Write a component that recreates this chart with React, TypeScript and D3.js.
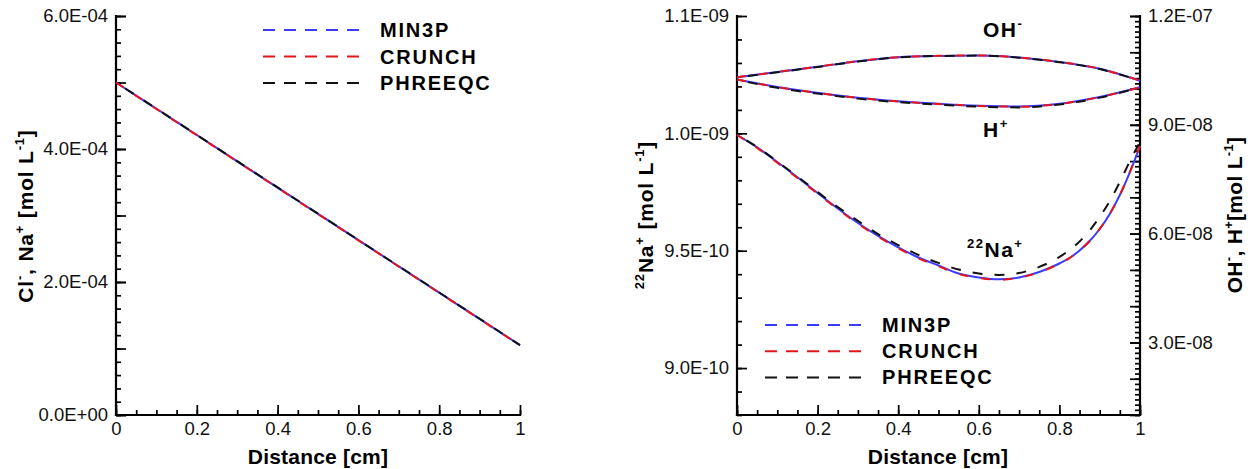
import React, { useEffect, useRef } from "react";
import * as d3 from "d3";

// values
const distance = [0, 0.1, 0.2, 0.3, 0.4, 0.5, 0.6, 0.7, 0.8, 0.9, 1];
const naDistance = [0, 0.05, 0.1, 0.15, 0.2, 0.25, 0.3, 0.35, 0.4, 0.45, 0.5,
  0.55, 0.6, 0.65, 0.7, 0.75, 0.8, 0.825, 0.85, 0.875, 0.9, 0.925, 0.95, 0.975, 1];

const codes = ["MIN3P", "CRUNCH", "PHREEQC"];
const codeColors = ["#3b3bff", "#e3161c", "#111111"];

// Cl-, Na+ (left panel)
const clMin3p = [5.0e-4, 4.605e-4, 4.21e-4, 3.815e-4, 3.42e-4, 3.025e-4, 2.63e-4, 2.235e-4, 1.84e-4, 1.445e-4, 1.05e-4];
const clCrunch = [5.0e-4, 4.603e-4, 4.208e-4, 3.812e-4, 3.417e-4, 3.022e-4, 2.627e-4, 2.232e-4, 1.838e-4, 1.443e-4, 1.05e-4];
const clPhreeqc = [5.0e-4, 4.607e-4, 4.212e-4, 3.817e-4, 3.422e-4, 3.027e-4, 2.632e-4, 2.237e-4, 1.842e-4, 1.447e-4, 1.05e-4];

// 22Na+ (right panel, left axis)
const naMin3p = [9.993e-10, 9.940e-10, 9.878e-10, 9.813e-10, 9.746e-10, 9.680e-10, 9.618e-10, 9.563e-10, 9.514e-10, 9.471e-10, 9.437e-10,
  9.403e-10, 9.386e-10, 9.378e-10, 9.386e-10, 9.409e-10, 9.4455e-10, 9.4689e-10, 9.5009e-10, 9.5413e-10, 9.5925e-10, 9.6564e-10,
  9.7373e-10, 9.8353e-10, 9.9461e-10];
const naCrunch = [9.993e-10, 9.938e-10, 9.875e-10, 9.810e-10, 9.743e-10, 9.677e-10, 9.615e-10, 9.560e-10, 9.511e-10, 9.468e-10, 9.434e-10,
  9.401e-10, 9.384e-10, 9.376e-10, 9.385e-10, 9.408e-10, 9.4450e-10, 9.4686e-10, 9.5008e-10, 9.5414e-10, 9.5930e-10, 9.6570e-10,
  9.7380e-10, 9.8360e-10, 9.9470e-10];
const naPhreeqc = [9.993e-10, 9.942e-10, 9.880e-10, 9.816e-10, 9.750e-10, 9.686e-10, 9.627e-10, 9.571e-10, 9.524e-10, 9.482e-10, 9.448e-10,
  9.420e-10, 9.403e-10, 9.397e-10, 9.405e-10, 9.431e-10, 9.4732e-10, 9.5030e-10, 9.5392e-10, 9.5861e-10, 9.6436e-10, 9.7118e-10,
  9.7927e-10, 9.8822e-10, 9.9632e-10];

// OH- and H+ (right panel, right axis)
const ohMin3p = [1.031e-7, 1.0456e-7, 1.06e-7, 1.0751e-7, 1.0864e-7, 1.09e-7, 1.0911e-7, 1.0856e-7, 1.0732e-7, 1.0544e-7, 1.0216e-7];
const ohCrunch = [1.031e-7, 1.0458e-7, 1.0602e-7, 1.0753e-7, 1.0866e-7, 1.0902e-7, 1.0913e-7, 1.0858e-7, 1.0734e-7, 1.0546e-7, 1.0216e-7];
const ohPhreeqc = [1.031e-7, 1.0450e-7, 1.0594e-7, 1.0746e-7, 1.0860e-7, 1.0897e-7, 1.0908e-7, 1.0852e-7, 1.0727e-7, 1.0538e-7, 1.0216e-7];
const hMin3p = [1.0249e-7, 1.0043e-7, 9.883e-8, 9.745e-8, 9.648e-8, 9.579e-8, 9.524e-8, 9.502e-8, 9.579e-8, 9.767e-8, 1.0034e-7];
const hCrunch = [1.0249e-7, 1.0040e-7, 9.880e-8, 9.742e-8, 9.645e-8, 9.576e-8, 9.521e-8, 9.500e-8, 9.577e-8, 9.765e-8, 1.0034e-7];
const hPhreeqc = [1.0240e-7, 1.0020e-7, 9.860e-8, 9.722e-8, 9.625e-8, 9.556e-8, 9.500e-8, 9.480e-8, 9.560e-8, 9.750e-8, 1.0030e-7];

// tick labels
const xTicks = [0, 0.2, 0.4, 0.6, 0.8, 1];
const xTickLabels = ["0", "0.2", "0.4", "0.6", "0.8", "1"];
const clTicks = [0, 2e-4, 4e-4, 6e-4];
const clTickLabels = ["0.0E+00", "2.0E-04", "4.0E-04", "6.0E-04"];
const naTicks = [9.0e-10, 9.5e-10, 1.0e-9, 1.05e-9];
const naTickLabels = ["9.0E-10", "9.5E-10", "1.0E-09", "1.1E-09"];
const ionTicks = [3e-8, 6e-8, 9e-8, 1.2e-7];
const ionTickLabels = ["3.0E-08", "6.0E-08", "9.0E-08", "1.2E-07"];

const font = "'Liberation Sans', Arial, sans-serif";

function App() {
  const ref = useRef<SVGSVGElement>(null);

  useEffect(() => {
    document.body.style.margin = "0";
    const svg = d3.select(ref.current);
    svg.selectAll("*").remove();

    const top = 16, bottom = 415;
    const x1 = d3.scaleLinear().domain([0, 1]).range([116, 520]);
    const yCl = d3.scaleLinear().domain([0, 6e-4]).range([bottom, top]);
    const x2 = d3.scaleLinear().domain([0, 1]).range([737, 1140]);
    const yNa = d3.scaleLinear().domain([8.8e-10, 1.05e-9]).range([bottom, top]);
    const yIon = d3.scaleLinear().domain([1e-8, 1.2e-7]).range([bottom, top]);

    const steps = (n: number, step: number, start = 0) => d3.range(n).map(i => start + i * step);

    // one axis layer; ticks point into the plot
    const axisLayer = (gen: any, tf: string) => {
      svg.append("g").attr("transform", tf).call(gen).call((g: any) => {
        g.select(".domain").remove();
        g.selectAll("line").attr("stroke", "#000").attr("stroke-width", 1.7);
        g.selectAll("text").attr("font-family", font).attr("font-size", 18.5).attr("fill", "#111");
      });
    };
    const noLabel = () => "";

    // x axes (both panels)
    [x1, x2].forEach(x => {
      const tf = `translate(0,${bottom})`;
      axisLayer(d3.axisBottom(x).tickValues(steps(21, 0.05)).tickSize(-5).tickFormat(noLabel), tf);
      axisLayer(d3.axisBottom(x).tickValues(xTicks).tickSize(-10).tickPadding(7)
        .tickFormat((d, i) => xTickLabels[i]), tf);
    });

    // left panel y axis
    axisLayer(d3.axisLeft(yCl).tickValues(steps(31, 2e-5)).tickSize(-5).tickFormat(noLabel), "translate(116,0)");
    axisLayer(d3.axisLeft(yCl).tickValues(steps(7, 1e-4)).tickSize(-10).tickFormat(noLabel), "translate(116,0)");
    axisLayer(d3.axisLeft(yCl).tickValues(clTicks).tickSize(-10).tickPadding(8)
      .tickFormat((d, i) => clTickLabels[i]), "translate(116,0)");

    // right panel left y axis
    axisLayer(d3.axisLeft(yNa).tickValues(steps(18, 1e-11, 8.8e-10)).tickSize(-5).tickFormat(noLabel), "translate(737,0)");
    axisLayer(d3.axisLeft(yNa).tickValues(naTicks).tickSize(-10).tickPadding(8)
      .tickFormat((d, i) => naTickLabels[i]), "translate(737,0)");

    // right panel right y axis
    axisLayer(d3.axisRight(yIon).tickValues(steps(78, 1e-8 / 7, 1e-8)).tickSize(-5).tickFormat(noLabel), "translate(1140,0)");
    axisLayer(d3.axisRight(yIon).tickValues(steps(12, 1e-8, 1e-8)).tickSize(-10).tickFormat(noLabel), "translate(1140,0)");
    axisLayer(d3.axisRight(yIon).tickValues(ionTicks).tickSize(-10).tickPadding(8)
      .tickFormat((d, i) => ionTickLabels[i]), "translate(1140,0)");

    // axis lines
    const axisLines = [
      [116, top, 116, bottom], [116, bottom, 520, bottom],
      [737, top, 737, bottom], [737, bottom, 1140, bottom], [1140, top, 1140, bottom],
    ];
    axisLines.forEach(([a, b, c, d]) => {
      svg.append("line").attr("x1", a).attr("y1", b).attr("x2", c).attr("y2", d)
        .attr("stroke", "#000").attr("stroke-width", 2.2).attr("stroke-linecap", "square");
    });

    // curves: blue drawn solid underneath, red and black dashed on top
    const dashes = [null, "9 13", "10 12"];
    const offsets = [0, 0, 11];
    const drawSeries = (x: any, y: any, xs: number[], ys: number[], k: number) => {
      const line = d3.line<number>().x((d, i) => x(xs[i])).y(d => y(d)).curve(d3.curveMonotoneX);
      svg.append("path").attr("d", line(ys)).attr("fill", "none")
        .attr("stroke", codeColors[k]).attr("stroke-width", 2)
        .attr("stroke-dasharray", dashes[k]).attr("stroke-dashoffset", offsets[k]);
    };
    [clMin3p, clCrunch, clPhreeqc].forEach((s, k) => drawSeries(x1, yCl, distance, s, k));
    [naMin3p, naCrunch, naPhreeqc].forEach((s, k) => drawSeries(x2, yNa, naDistance, s, k));
    [ohMin3p, ohCrunch, ohPhreeqc].forEach((s, k) => drawSeries(x2, yIon, distance, s, k));
    [hMin3p, hCrunch, hPhreeqc].forEach((s, k) => drawSeries(x2, yIon, distance, s, k));

    // text with superscripts
    const richText = (x: number, y: number, rot: number, anchor: string, parts: [string, boolean][],
      size: number, spacing: number) => {
      const t = svg.append("text").attr("transform", `translate(${x},${y}) rotate(${rot})`)
        .attr("text-anchor", anchor).attr("font-family", font).attr("font-weight", "bold")
        .attr("font-size", size).attr("letter-spacing", spacing).attr("fill", "#000");
      let shift = 0;
      parts.forEach(([s, sup]) => {
        const target = sup ? -size * 0.42 : 0;
        t.append("tspan").attr("font-size", sup ? size * 0.62 : size).attr("dy", target - shift).text(s);
        shift = target;
      });
    };

    richText(318, 464, 0, "middle", [["Distance [cm]", false]], 21, 0.2);
    richText(938, 464, 0, "middle", [["Distance [cm]", false]], 21, 0.2);
    richText(33, 216, -90, "middle",
      [["Cl", false], ["-", true], [", Na", false], ["+", true], [" [mol L", false], ["-1", true], ["]", false]], 21, 0.8);
    richText(653, 215, -90, "middle",
      [["22", true], ["Na", false], ["+", true], [" [mol L", false], ["-1", true], ["]", false]], 21, 0.8);
    richText(1242, 215, -90, "middle",
      [["OH", false], ["-", true], [", H", false], ["+", true], ["[mol L", false], ["-1", true], ["]", false]], 21, 0.3);

    richText(983, 37, 0, "start", [["OH", false], ["-", true]], 21, 1.5);
    richText(983, 137, 0, "start", [["H", false], ["+", true]], 21, 1.5);
    richText(967, 257, 0, "start", [["22", true], ["Na", false], ["+", true]], 21, 1.5);

    // legends
    const legend = (lx0: number, lx1: number, tx: number, y0: number, gap: number) => {
      codes.forEach((c, k) => {
        const y = y0 + k * gap;
        svg.append("line").attr("x1", lx0).attr("x2", lx1).attr("y1", y).attr("y2", y)
          .attr("stroke", codeColors[k]).attr("stroke-width", 2).attr("stroke-dasharray", "12 9");
        svg.append("text").attr("x", tx).attr("y", y + 7).attr("font-family", font)
          .attr("font-weight", "bold").attr("font-size", 20).attr("letter-spacing", 1.8)
          .attr("fill", "#000").text(c);
      });
    };
    legend(263, 362, 380, 30, 26.5);
    legend(765, 862, 882, 325, 26.2);
  }, []);

  return <svg ref={ref} width={1254} height={469} style={{ display: "block", background: "#fff" }} />;
}

export default App;
